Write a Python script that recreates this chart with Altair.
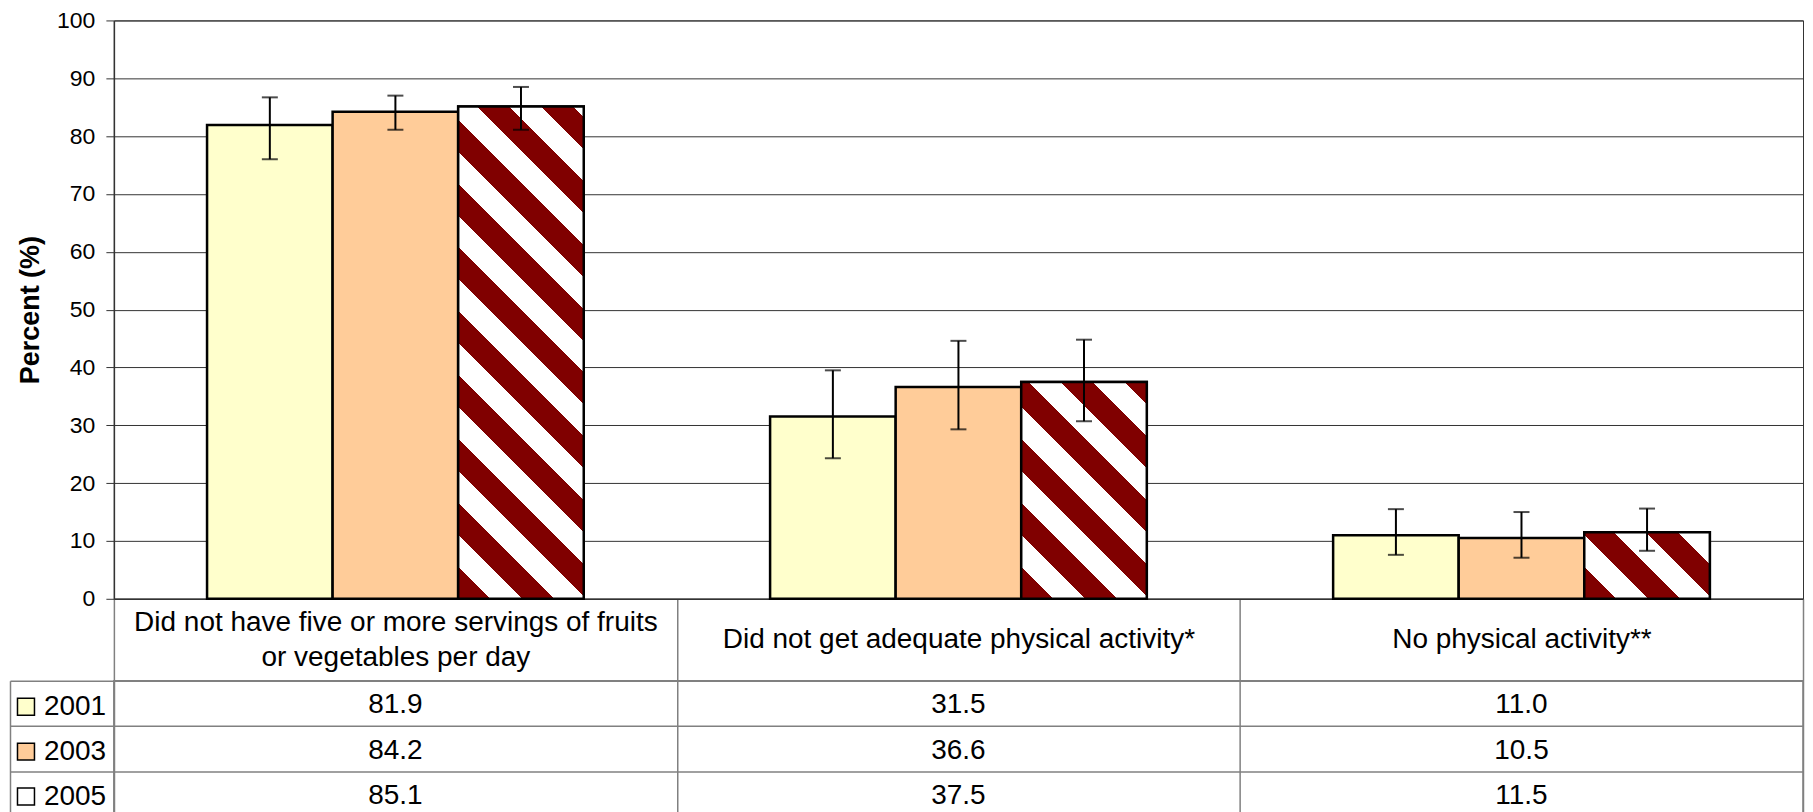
import altair as alt
import pandas as pd

# ---------------- data ----------------
categories = [
    "Did not have five or more servings of fruits or vegetables per day",
    "Did not get adequate physical activity*",
    "No physical activity**",
]
category_lines = [
    ["Did not have five or more servings of fruits", "or vegetables per day"],
    ["Did not get adequate physical activity*"],
    ["No physical activity**"],
]
years = ["2001", "2003", "2005"]
pct_2001 = [81.9, 31.5, 11.0]
pct_2003 = [84.2, 36.6, 10.5]
pct_2005 = [85.1, 37.5, 11.5]
low_2001 = [76.0, 24.3, 7.6]
high_2001 = [86.7, 39.5, 15.5]
low_2003 = [81.1, 29.3, 7.1]
high_2003 = [87.0, 44.6, 15.0]
low_2005 = [81.1, 30.7, 8.3]
high_2005 = [88.5, 44.8, 15.6]
y_ticks = [0, 10, 20, 30, 40, 50, 60, 70, 80, 90, 100]

year_colors = ["#FFFFCC", "#FFCC99", "#FFFFFF"]
STRIPE = "#800000"
FONT = "Liberation Sans, Arial, sans-serif"

# ---------------- layout ----------------
PLOT_W = 1691
PLOT_H = 579
LABEL_ROW = 82
TABLE_H = 136
HEADER_W = 104
LINE_H = 35
OFFSET_PAD = 0.742          # outer padding of the year slots inside a category band
BAR_W = PLOT_W / 3 / (3 + 2 * OFFSET_PAD)

vals = {"2001": pct_2001, "2003": pct_2003, "2005": pct_2005}
lows = {"2001": low_2001, "2003": low_2003, "2005": low_2005}
highs = {"2001": high_2001, "2003": high_2003, "2005": high_2005}
rows = []
for yr in years:
    for i, c in enumerate(categories):
        rows.append({"category": c, "year": yr, "value": vals[yr][i],
                     "low": lows[yr][i], "high": highs[yr][i]})
df = pd.DataFrame(rows)

x_scale = alt.Scale(domain=categories, paddingInner=0, paddingOuter=0)
xo = alt.XOffset("year:N", scale=alt.Scale(domain=years, paddingInner=0, paddingOuter=OFFSET_PAD))
y_scale = alt.Scale(domain=[0, 100], nice=False)

# label expression for multi-line category labels
parts = []
multi = []
for c, lines in zip(categories, category_lines):
    arr = "[" + ", ".join("'" + l + "'" for l in lines) + "]"
    parts.append(f"datum.value === '{c}' ? {arr}")
    if len(lines) > 1:
        multi.append(f"datum.value === '{c}'")
label_expr = " : ".join(parts) + " : datum.value"
centre_pad = -LABEL_ROW / 2
label_pad = {
    "condition": {"test": " || ".join(multi), "value": centre_pad - LINE_H / 2},
    "value": centre_pad,
}

x_axis = alt.Axis(
    title=None, labelExpr=label_expr, labelFontSize=28, labelFont=FONT, labelColor="black",
    labelLimit=2000, labelAngle=0, labelBaseline="middle", labelPadding=label_pad,
    labelLineHeight=LINE_H, tickBand="extent", tickSize=LABEL_ROW, tickColor="#808080",
    tickWidth=1.5, domainColor="#333333", domainWidth=1.5, grid=False,
)
y_axis = alt.Axis(
    title="Percent (%)", values=y_ticks, labelFontSize=23, labelFont=FONT, labelColor="black",
    labelPadding=11, tickSize=8, tickColor="#333333", tickWidth=1, domainColor="#333333",
    domainWidth=1.5, gridColor="#333333", gridWidth=1, titleFontSize=27, titleFont=FONT,
    titleFontWeight="bold", titleColor="black", titlePadding=12,
)

base = alt.Chart(df)

bars = base.mark_bar(stroke="black", strokeWidth=2.5).encode(
    x=alt.X("category:N", scale=x_scale, axis=x_axis, sort=categories),
    xOffset=xo,
    y=alt.Y("value:Q", scale=y_scale, axis=y_axis),
    color=alt.Color("year:N", scale=alt.Scale(domain=years, range=year_colors), legend=None),
)


def stripe_gradient(value):
    """Diagonal 45-degree stripes (dark red / white), 64px horizontal period."""
    w = BAR_W
    h = value * PLOT_H / 100.0
    a = (w + h) / (w * w + h * h)
    p = 64.0 / (w + h)
    stops = []
    t = 0.0
    while t < 1.0:
        s0 = min(t, 1.0)
        s1 = min(t + p / 2, 1.0)
        s2 = min(t + p, 1.0)
        stops += [
            alt.GradientStop(color=STRIPE, offset=s0),
            alt.GradientStop(color=STRIPE, offset=s1),
            alt.GradientStop(color="#FFFFFF", offset=s1),
            alt.GradientStop(color="#FFFFFF", offset=s2),
        ]
        t += p
    return alt.LinearGradient(gradient="linear", stops=stops,
                              x1=0, y1=1, x2=a * w, y2=1 - a * h)


pattern_layers = []
for i, c in enumerate(categories):
    pattern_layers.append(
        base.transform_filter(
            (alt.datum.year == "2005") & (alt.datum.category == c)
        ).mark_bar(fill=stripe_gradient(pct_2005[i]), stroke="black", strokeWidth=2.5).encode(
            x=alt.X("category:N", scale=x_scale, sort=categories),
            xOffset=xo,
            y=alt.Y("value:Q", scale=y_scale),
        )
    )

err_rule = base.mark_rule(color="black", strokeWidth=2).encode(
    x=alt.X("category:N", scale=x_scale, sort=categories),
    xOffset=xo,
    y=alt.Y("low:Q", scale=y_scale),
    y2="high:Q",
)
err_low = base.mark_tick(color="black", size=16, thickness=2).encode(
    x=alt.X("category:N", scale=x_scale, sort=categories),
    xOffset=xo,
    y=alt.Y("low:Q", scale=y_scale),
)
err_high = base.mark_tick(color="black", size=16, thickness=2).encode(
    x=alt.X("category:N", scale=x_scale, sort=categories),
    xOffset=xo,
    y=alt.Y("high:Q", scale=y_scale),
)

top = alt.layer(bars, *pattern_layers, err_rule, err_low, err_high).properties(
    width=PLOT_W, height=PLOT_H,
    view=alt.ViewBackground(stroke="#333333", strokeWidth=1),
)

# ---------------- data table below ----------------
row_scale = alt.Scale(domain=years, paddingInner=0, paddingOuter=0)
table_text = base.mark_text(fontSize=28, font=FONT, color="black", baseline="middle", dy=2).encode(
    x=alt.X("category:N", scale=x_scale, sort=categories,
            axis=alt.Axis(title=None, labels=False, ticks=False, domain=False, grid=True,
                          gridColor="#808080", gridWidth=1.5, tickBand="extent")),
    y=alt.Y("year:N", scale=row_scale,
            axis=alt.Axis(title=None, labels=False, ticks=True, tickSize=HEADER_W, tickBand="extent",
                          tickColor="#808080", tickWidth=1.5, grid=True, gridColor="#808080",
                          gridWidth=1.5, domainColor="#808080", domainWidth=1.5, orient="left")),
    text=alt.Text("value:Q", format=".1f"),
)
table_legend = base.mark_square(size=0).encode(
    x=alt.X("category:N", scale=x_scale, sort=categories),
    y=alt.Y("year:N", scale=row_scale,
            axis=alt.Axis(title=None, labels=False, ticks=False, grid=False, domain=True,
                          domainColor="#808080", domainWidth=1.5, offset=HEADER_W, orient="left")),
    fill=alt.Fill("year:N", scale=alt.Scale(domain=years, range=year_colors),
                  legend=alt.Legend(title=None, orient="none", legendX=-102, legendY=12,
                                    direction="vertical", symbolType="square", symbolSize=289,
                                    symbolStrokeColor="black", symbolStrokeWidth=1.5,
                                    symbolOpacity=1, labelFontSize=28, labelFont=FONT,
                                    labelColor="black", labelOffset=4, rowPadding=17, padding=0)),
)
table = alt.layer(table_text, table_legend).resolve_axis(y="independent").properties(
    width=PLOT_W, height=TABLE_H,
    view=alt.ViewBackground(stroke="#808080", strokeWidth=1.5),
)

chart = alt.vconcat(top, table, spacing=LABEL_ROW, bounds="flush").resolve_scale(
    fill="independent", color="independent"
).resolve_legend(fill="independent", color="independent").configure(
    font=FONT, padding=0
)

chart.save("out.html", embed_options={"renderer": "svg", "actions": False})
